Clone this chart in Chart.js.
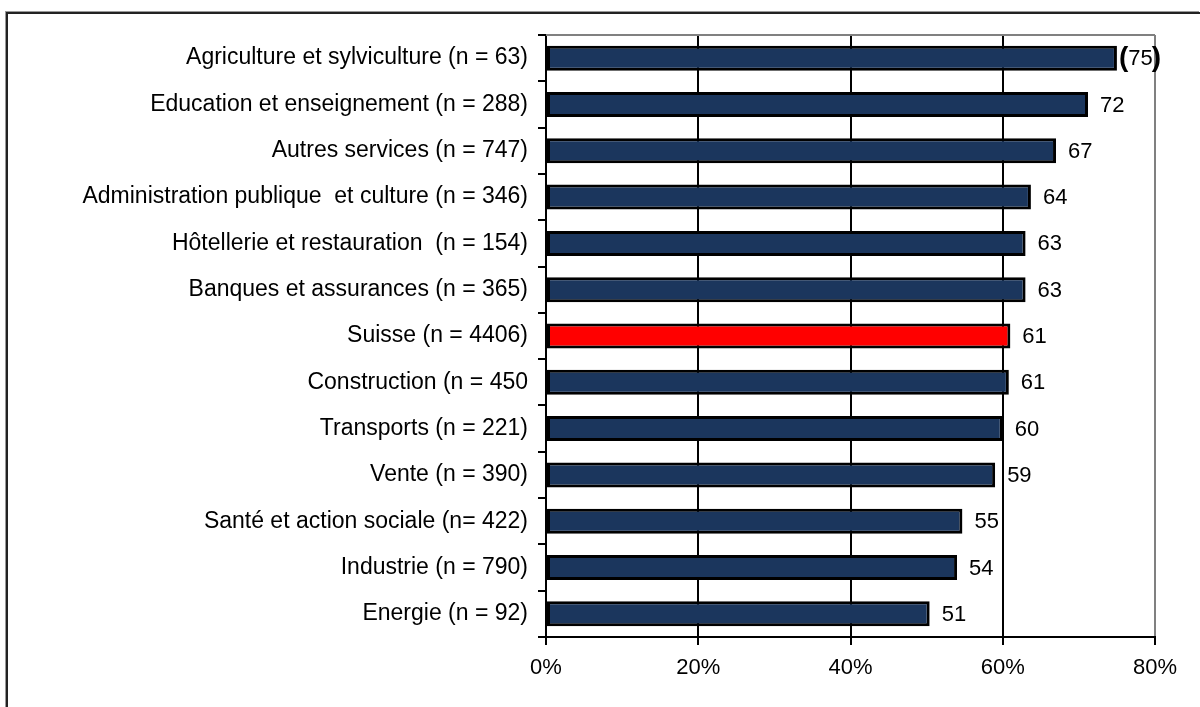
<!DOCTYPE html>
<html>
<head>
<meta charset="utf-8">
<script src="https://cdn.jsdelivr.net/npm/chart.js@4/dist/chart.umd.min.js"></script>
<style>
    body { margin: 0; background: #fff; }
    #wrap { position: relative; width: 1200px; height: 707px; }
    #frame { position: absolute; left: 6px; top: 12px; right: 0; bottom: -4px; border-left: 2px solid #222; border-top: 2px solid #222; box-shadow: -1px -1px 0 #999; }
    canvas { position: absolute; left: 0; top: 0; }
</style>
</head>
<body>
<div id="wrap">
    <div id="frame"></div>
    <canvas id="chart" width="1200" height="707"></canvas>
</div>
<script>
const categories = [
    "Agriculture et sylviculture (n = 63)",
    "Education et enseignement (n = 288)",
    "Autres services (n = 747)",
    "Administration publique  et culture (n = 346)",
    "Hôtellerie et restauration  (n = 154)",
    "Banques et assurances (n = 365)",
    "Suisse (n = 4406)",
    "Construction (n = 450",
    "Transports (n = 221)",
    "Vente (n = 390)",
    "Santé et action sociale (n= 422)",
    "Industrie (n = 790)",
    "Energie (n = 92)"
];
const values = [75, 71.2, 67, 63.7, 63, 63, 61, 60.8, 60, 59, 54.7, 54, 50.4];
const valueLabels = ["(75)", "72", "67", "64", "63", "63", "61", "61", "60", "59", "55", "54", "51"];
const xTicks = [0, 20, 40, 60, 80];

const FONT = "'Liberation Sans', Arial, sans-serif";
const barColors = categories.map(c => c.startsWith("Suisse") ? "#ff0000" : "#1b365d");

const valueLabelPlugin = {
    id: "valueLabels",
    afterDatasetsDraw(chart) {
        const ctx = chart.ctx;
        const meta = chart.getDatasetMeta(0);
        ctx.save();
        ctx.fillStyle = "#000";
        ctx.textBaseline = "middle";
        ctx.textAlign = "left";
        meta.data.forEach((bar, i) => {
            const txt = valueLabels[i];
            if (txt.startsWith("(")) {
                // bracketed value: heavy brackets around it
                const inner = txt.slice(1, -1);
                let x = bar.x + 2;
                ctx.font = "bold 28px " + FONT;
                ctx.fillText("(", x, bar.y);
                x += ctx.measureText("(").width;
                ctx.font = "22px " + FONT;
                ctx.fillText(inner, x, bar.y + 1);
                x += ctx.measureText(inner).width - 1;
                ctx.font = "bold 28px " + FONT;
                ctx.fillText(")", x, bar.y);
            } else {
                ctx.font = "22px " + FONT;
                ctx.fillText(txt, bar.x + 12, bar.y + 1);
            }
        });
        ctx.restore();
    }
};

const topBorderPlugin = {
    id: "topBorder",
    afterDraw(chart) {
        const a = chart.chartArea;
        const ctx = chart.ctx;
        ctx.save();
        ctx.strokeStyle = "#808080";
        ctx.lineWidth = 2;
        ctx.beginPath();
        ctx.moveTo(a.left, a.top);
        ctx.lineTo(a.right, a.top);
        ctx.stroke();
        ctx.restore();
    }
};

new Chart(document.getElementById("chart"), {
    type: "bar",
    data: {
        labels: categories,
        datasets: [{
            data: values,
            backgroundColor: barColors,
            borderColor: "#000",
            borderWidth: 3,
            borderSkipped: false,
            barPercentage: 0.54,
            categoryPercentage: 1
        }]
    },
    options: {
        indexAxis: "y",
        responsive: false,
        animation: false,
        layout: { padding: { left: 0, right: 45, top: 35, bottom: 0 } },
        plugins: {
            legend: { display: false },
            tooltip: { enabled: false }
        },
        scales: {
            x: {
                min: 0,
                max: 80,
                afterBuildTicks: scale => { scale.ticks = xTicks.map(v => ({ value: v })); },
                afterFit: scale => { scale.height = 70; },
                grid: {
                    color: c => c.tick && c.tick.value === 80 ? "#808080" : "#000",
                    tickColor: "#000",
                    lineWidth: 2,
                    tickLength: 8
                },
                border: { color: "#000", width: 2 },
                ticks: {
                    color: "#000",
                    padding: 10,
                    font: { family: FONT, size: 22 },
                    callback: v => v + "%"
                }
            },
            y: {
                afterFit: scale => { scale.width = 546; },
                grid: {
                    offset: true,
                    drawOnChartArea: false,
                    color: "#000",
                    lineWidth: 2,
                    tickLength: 8
                },
                border: { color: "#000", width: 2 },
                ticks: {
                    color: "#000",
                    padding: 10,
                    autoSkip: false,
                    font: { family: FONT, size: 23 }
                }
            }
        }
    },
    plugins: [valueLabelPlugin, topBorderPlugin]
});
</script>
</body>
</html>
